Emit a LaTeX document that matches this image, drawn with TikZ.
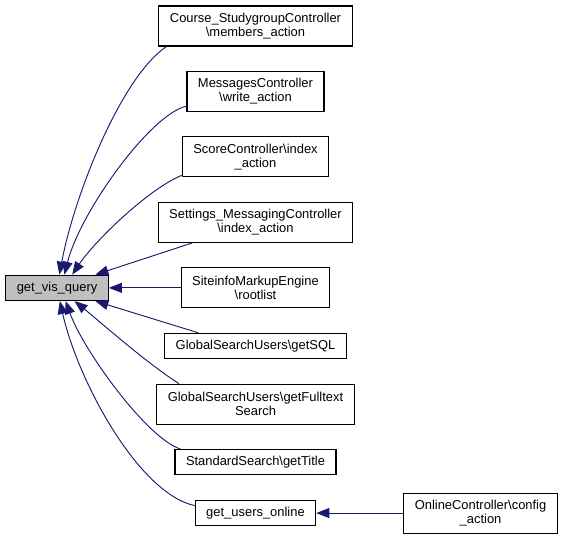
\documentclass[tikz,border=0pt]{standalone}
\usepackage{fontspec}
\setmainfont{Liberation Sans}
\usetikzlibrary{positioning,arrows.meta}
\definecolor{midnightblue}{RGB}{25,25,112}
\definecolor{nodegray}{RGB}{191,191,191}
\tikzset{
  box/.style={draw=black, line width=0.8pt, fill=white, align=center, inner xsep=8.25pt, inner ysep=2pt, minimum height=19pt, font=\fontsize{9.7}{10.5}\selectfont},
  twoline/.style={box, minimum height=30pt},
  call/.style={draw=midnightblue, line width=0.7pt, -{Triangle[length=9.75pt, width=7.5pt]}}
}
\begin{document}
\begin{tikzpicture}[x=0.75pt, y=0.75pt, node distance=18.3pt, auto]
            \useasboundingbox (0,0) rectangle (564,540);
            \node(A) [twoline] at (255.5,514) {Course\_StudygroupController\\\textbackslash members\_action};
            \node(B) [twoline, below=of A] {MessagesController\\\textbackslash write\_action};
            \node(C) [twoline, below=of B] {ScoreController\textbackslash index\\\_action};
            \node(D) [twoline, below=of C] {Settings\_MessagingController\\\textbackslash index\_action};
            \node(E) [twoline, below=of D] {SiteinfoMarkupEngine\\\textbackslash rootlist};
            \node(F) [box, below=of E] {GlobalSearchUsers\textbackslash getSQL};
            \node(G) [twoline, below=of F] {GlobalSearchUsers\textbackslash getFulltext\\Search};
            \node(H) [box, below=of G] {StandardSearch\textbackslash getTitle};
            \node(U) [box, below=of H] {get\_users\_online};
            \node(O) [twoline, right=65.2pt of U] {OnlineController\textbackslash config\\\_action};
            \node(Q) [box, fill=nodegray, left=53.9pt of E] {get\_vis\_query};
            \draw[call](A.193) .. controls +(-45,-30) and +(15,80) .. (Q.80);
            \draw[call](B.192) .. controls +(-36,-8) and +(16,63) .. (Q.61);
            \draw[call](C.194) .. controls +(-34,-14) and +(22,33) .. (Q.41);
            \draw[call](D.198) -- (Q.19);
            \draw[call](E.west) -- (Q.east);
            \draw[call](F.167) -- (Q.341);
            \draw[call](G.165) .. controls +(-34,22) and +(27,-22) .. (Q.323);
            \draw[call](H.170) .. controls +(-33,10) and +(18,-50) .. (Q.303);
            \draw[call](U.173) .. controls +(-56,12) and +(18,-80) .. (Q.282);
            \draw[call](O.west) -- (U.east);
\end{tikzpicture}
\end{document}
